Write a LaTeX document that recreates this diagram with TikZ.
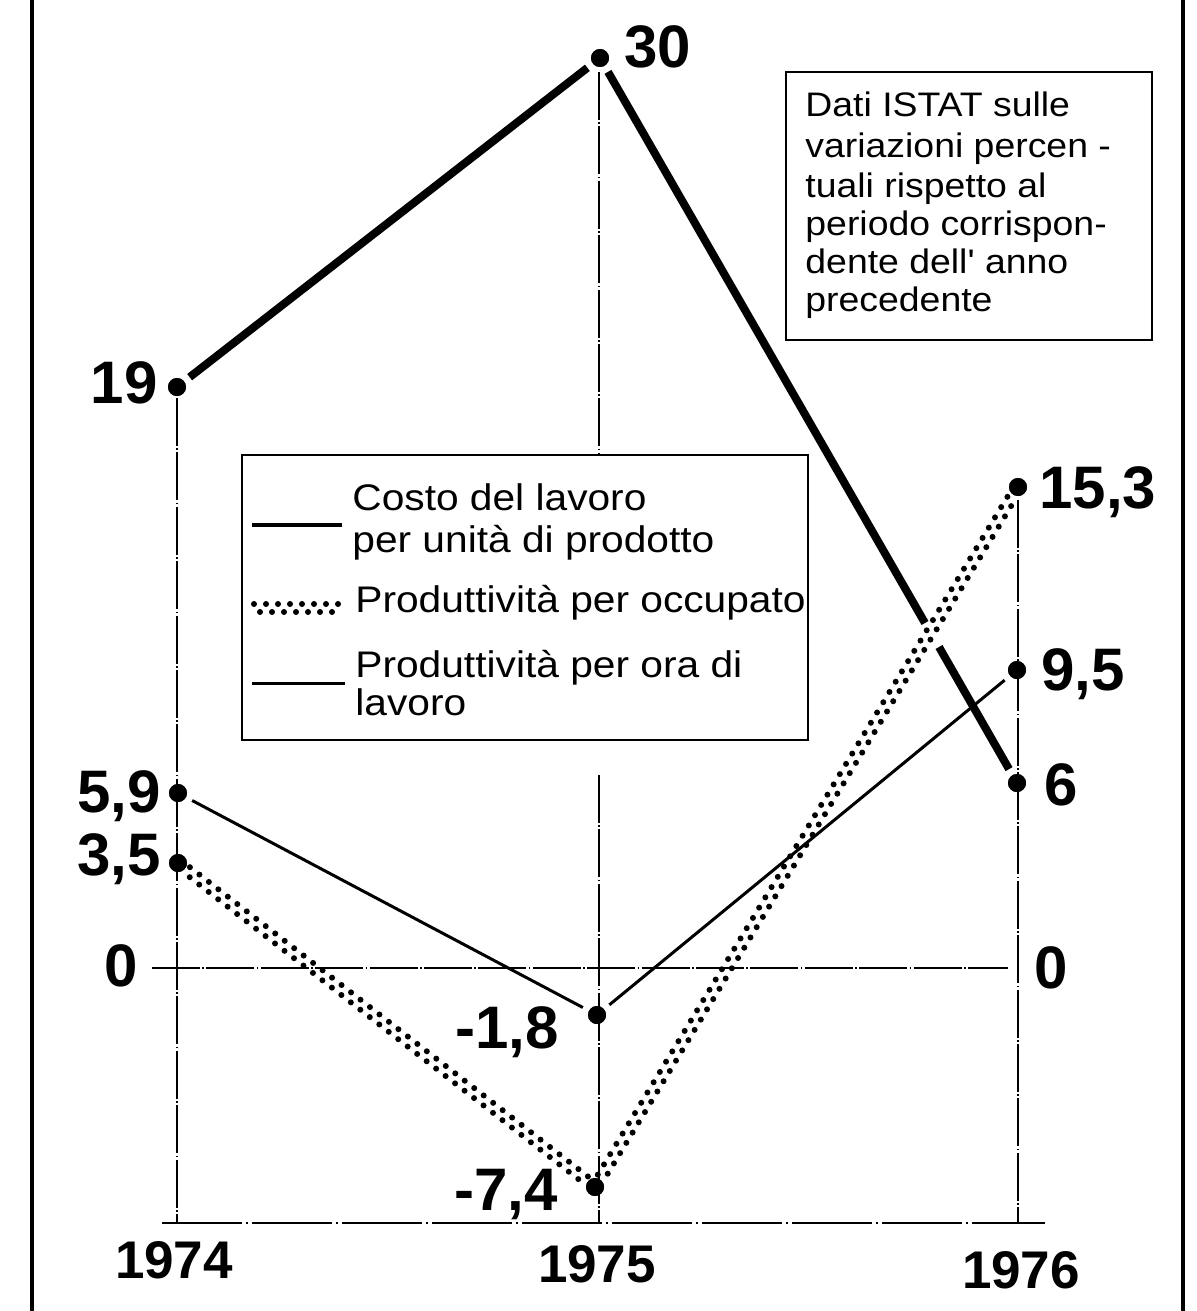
\documentclass[tikz,border=0pt]{standalone}
\usepackage{fontspec}
\setmainfont{Liberation Sans}
\newfontfamily\txtfont[FakeStretch=1.1]{Liberation Sans}
\usetikzlibrary{calc}
\tikzset{
  dot/.style={circle, fill=black, inner sep=0pt, minimum size=9pt, outer sep=3.5pt},
  costo/.style={line width=4pt},
  ora/.style={line width=1.5pt},
  gridl/.style={line width=0.7pt, dash pattern=on 24pt off 1.2pt on 0.8pt off 1.2pt},
  axisl/.style={line width=1pt, dash pattern=on 40pt off 2pt on 1pt off 2pt},
  num/.style={font=\bfseries\fontsize{30}{32}\selectfont, inner sep=0pt},
  yearl/.style={font=\bfseries\fontsize{26.5}{28}\selectfont, inner sep=0pt, anchor=base},
  legt/.style={font=\txtfont\fontsize{18.5}{20}\selectfont, inner sep=0pt, anchor=base west},
  notet/.style={font=\txtfont\fontsize{17}{19}\selectfont, inner sep=0pt, anchor=base west},
  boxl/.style={line width=1pt},
  dotrow/.style={line width=3pt, line cap=round, dash pattern=on 0pt off 6pt},
  frame/.style={line width=2.2pt}
}
\newcommand\occseg[2]{%
  \path ($(#1)!6pt!(#2)$) coordinate (s1) ($(#2)!6pt!(#1)$) coordinate (s2);
  \draw[dotrow] ($(s1)!2pt!90:(s2)$) -- ($(s2)!2pt!-90:(s1)$);
  \draw[dotrow, dash phase=3pt] ($(s1)!2pt!-90:(s2)$) -- ($(s2)!2pt!90:(s1)$);
}
\begin{document}
\begin{tikzpicture}[x=0.5pt, y=-0.5pt]
\useasboundingbox (0,0) rectangle (1196,1311);
% frame
\coordinate (fl1) at (32,0); \coordinate (fl2) at (32,1311);
\coordinate (fr1) at (1183,0); \coordinate (fr2) at (1183,1311);
\draw[frame] (fl1) -- (fl2);
\draw[frame] (fr1) -- (fr2);

% data points
\node[dot] (c74) at (177,387) {};
\node[dot] (c75) at (600,58) {};
\node[dot] (c76) at (1017,783) {};
\node[dot] (o74) at (178,863) {};
\node[dot] (o75) at (595,1187) {};
\node[dot] (o76) at (1018,487) {};
\node[dot] (h74) at (178,793) {};
\node[dot] (h75) at (597,1015) {};
\node[dot] (h76) at (1017,670) {};

% grid lines
\coordinate (v74a) at (177,398); \coordinate (v74b) at (177,1223);
\coordinate (v75a) at (599,72);  \coordinate (v75b) at (599,455);
\coordinate (v75c) at (599,775); \coordinate (v75d) at (599,1223);
\coordinate (v76a) at (1018,500); \coordinate (v76b) at (1018,1223);
\coordinate (z0a) at (152,968); \coordinate (z0b) at (1008,968);
\coordinate (axa) at (162,1223); \coordinate (axb) at (1045,1223);
\draw[gridl] (v74a) -- (v74b);
\draw[gridl] (v75a) -- (v75b);
\draw[gridl] (v75c) -- (v75d);
\draw[gridl] (v76a) -- (v76b);
\draw[gridl] (z0a) -- (z0b);
\draw[axisl] (axa) -- (axb);

% Costo del lavoro
\coordinate (g1) at (925,623); \coordinate (g2) at (939,647);
\draw[costo] (c74) -- (c75);
\draw[costo] (c75) -- (g1);
\draw[costo] (g2) -- (c76);
% Produttivita per ora
\draw[ora] (h74) -- (h75) -- (h76);
% Produttivita per occupato
\occseg{o74}{o75}
\occseg{o75}{o76}

% dots on top
\foreach \n in {c74,c75,c76,o74,o75,o76,h74,h75,h76}
  \fill (\n.center) circle (4.5pt);

% value labels
\node[num, anchor=base west] (l30) at (624,68) {30};
\node[num, anchor=base east] (l19) at (158,403) {19};
\node[num, anchor=base east] (l59) at (161,812) {5,9};
\node[num, anchor=base east] (l35) at (161,875) {3,5};
\node[num, anchor=base east] (l0a) at (138,986) {0};
\node[num, anchor=base west] (l0b) at (1034,988) {0};
\node[num, anchor=base east] (l18) at (559,1048) {-1,8};
\node[num, anchor=base east] (l74) at (558,1210) {-7,4};
\node[num, anchor=base west] (l153) at (1039,508) {15,3};
\node[num, anchor=base west] (l95) at (1041,690) {9,5};
\node[num, anchor=base west] (l6) at (1044,805) {6};

% years
\node[yearl] (y74) at (174,1278) {1974};
\node[yearl] (y75) at (597,1282) {1975};
\node[yearl] (y76) at (1021,1288) {1976};

% legend
\draw[boxl] (242,455) rectangle (808,740);
\coordinate (ka) at (252,525); \coordinate (kb) at (342,525);
\draw[line width=2pt] (ka) -- (kb);
\coordinate (kc) at (254,608); \coordinate (kd) at (343,608);
\draw[dotrow] ($(kc)+(0,-4)$) -- ($(kd)+(0,-4)$);
\draw[dotrow, dash phase=3pt] ($(kc)+(0,4)$) -- ($(kd)+(0,4)$);
\coordinate (ke) at (252,683); \coordinate (kf) at (345,683);
\draw[ora] (ke) -- (kf);
\node[legt] (t1) at (352,510) {Costo del lavoro};
\node[legt] (t2) at (352,552) {per unità di prodotto};
\node[legt] (t3) at (355,612) {Produttività per occupato};
\node[legt] (t4) at (355,677) {Produttività per ora di};
\node[legt] (t5) at (355,715) {lavoro};

% note
\draw[boxl] (786,72) rectangle (1152,340);
\node[notet] (n1) at (805,117) {Dati ISTAT sulle};
\node[notet] (n2) at (805,157) {variazioni percen -};
\node[notet] (n3) at (805,197) {tuali rispetto al};
\node[notet] (n4) at (805,235) {periodo corrispon-};
\node[notet] (n5) at (805,273) {dente dell' anno};
\node[notet] (n6) at (805,311) {precedente};
\end{tikzpicture}
\end{document}
